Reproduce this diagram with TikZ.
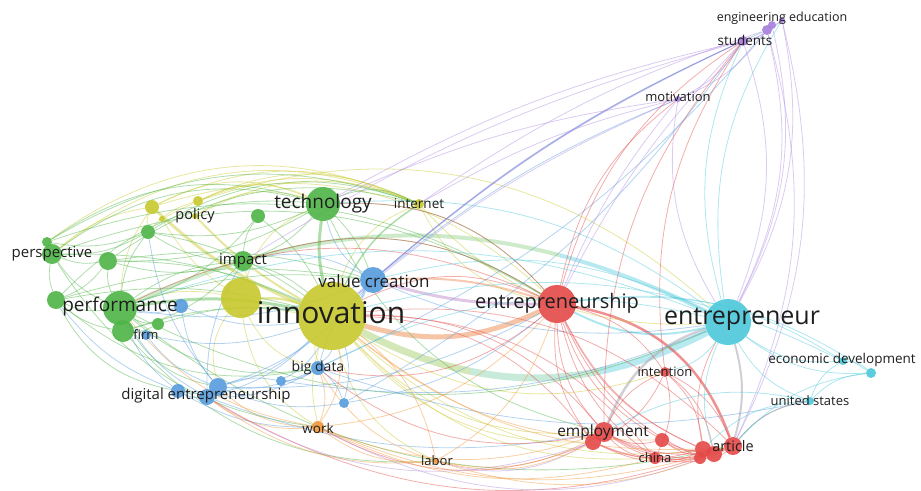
\documentclass[tikz,border=0pt]{standalone}
\usepackage{fontspec}
\setmainfont{Open Sans}
\pgfdeclarelayer{edges}
\pgfsetlayers{edges,main}
\definecolor{yel}{RGB}{200,200,45}
\definecolor{grn}{RGB}{78,180,70}
\definecolor{blu}{RGB}{85,155,220}
\definecolor{red1}{RGB}{228,72,72}
\definecolor{cyn}{RGB}{75,200,218}
\definecolor{prp}{RGB}{165,125,220}
\definecolor{org}{RGB}{240,150,55}
\definecolor{txt}{RGB}{30,30,30}
\definecolor{gry}{RGB}{175,175,185}
\newcommand\fs[1]{\fontsize{#1}{#1}\selectfont}
\newcommand\kwn[4]{\node[kw,fill=#4,minimum size={2*#3}] (#1) at (#2) {};}
\newcommand\edges[3]{\foreach \a/\b in {#3} \draw[#1] (\a) to[#2] (\b);}
\tikzset{
  kw/.style={circle,inner sep=0pt,draw=none,fill opacity=0.9},
  lbl/.style={text=txt,inner sep=0pt},
  ebase/.style={line width=0.8pt,draw opacity=0.45},
  eyel/.style={ebase,draw=yel},
  egrn/.style={ebase,draw=grn},
  eblu/.style={ebase,draw=blu},
  ered/.style={ebase,draw=red1},
  ecyn/.style={ebase,draw=cyn},
  eprp/.style={ebase,draw=prp,draw opacity=0.4},
  eorg/.style={ebase,draw=org},
}
\begin{document}
\begin{tikzpicture}[x=1pt,y=-1pt]
\useasboundingbox (0,0) rectangle (921,490);
% ---------- keyword circles ----------
% yellow
\kwn{inno}{332,316}{34}{yel}
\kwn{yb}{241,298}{20}{yel}
\kwn{y1}{152,207}{7}{yel}
\kwn{y2}{198,201}{5}{yel}
\kwn{y3}{162,219}{3}{yel}
\kwn{poli}{195,216}{3}{yel}
\kwn{inet}{419,204}{5}{yel}
% green
\kwn{tech}{323,204}{17}{grn}
\kwn{g1}{258,216}{7}{grn}
\kwn{imp}{243,261}{10}{grn}
\kwn{perf}{120,308}{17}{grn}
\kwn{g2}{123,331}{11}{grn}
\kwn{g3}{56,300}{9}{grn}
\kwn{g4}{108,261}{9}{grn}
\kwn{persp}{52,254}{10}{grn}
\kwn{g5}{47,242}{5}{grn}
\kwn{g6}{148,232}{7}{grn}
\kwn{g7}{158,324}{6}{grn}
% blue
\kwn{vc}{373,280}{13}{blu}
\kwn{b1}{181,306}{7}{blu}
\kwn{firm}{146,335}{5}{blu}
\kwn{bd}{318,368}{7}{blu}
\kwn{b2}{281,381}{5}{blu}
\kwn{b3}{218,387}{9}{blu}
\kwn{b4}{207,397}{8}{blu}
\kwn{b5}{178,391}{7}{blu}
\kwn{b6}{344,403}{5}{blu}
% orange
\kwn{work}{318,427}{6}{org}
\kwn{labor}{436,461}{3}{org}
% red
\kwn{eship}{557,304}{19}{red1}
\kwn{intn}{665,372}{5}{red1}
\kwn{empl}{604,432}{10}{red1}
\kwn{r1}{593,442}{8}{red1}
\kwn{r2}{662,440}{7}{red1}
\kwn{china}{655,458}{6}{red1}
\kwn{r3}{703,449}{8}{red1}
\kwn{r4}{714,454}{8}{red1}
\kwn{r5}{700,458}{6}{red1}
\kwn{art}{733,446}{9}{red1}
% cyan
\kwn{eneur}{728,322}{23}{cyn}
\kwn{ecod}{843,361}{4}{cyn}
\kwn{c1}{871,373}{5}{cyn}
\kwn{us}{810,401}{4}{cyn}
% purple
\kwn{stud}{743,41}{5}{prp}
\kwn{p1}{767,30}{5}{prp}
\kwn{p2}{772,25}{4}{prp}
\kwn{engd}{782,20}{3}{prp}
\kwn{motv}{678,99}{3}{prp}

% ---------- connectors ----------
\begin{pgfonlayer}{edges}
% thick links
\begin{scope}
\clip (0,0) rectangle (470,490);
\draw[line width=7pt,draw=yel!45!grn!80!white,draw opacity=0.45] (inno) to[bend right=27] (eneur);
\end{scope}
\begin{scope}
\clip (470,0) rectangle (600,490);
\draw[line width=7pt,draw=grn!55!cyn!70!white,draw opacity=0.45] (inno) to[bend right=27] (eneur);
\end{scope}
\begin{scope}
\clip (600,0) rectangle (921,490);
\draw[line width=7pt,draw=cyn!80!white,draw opacity=0.5] (inno) to[bend right=27] (eneur);
\end{scope}
\begin{scope}
\clip (0,0) rectangle (560,490);
\draw[line width=4pt,draw=grn!70!white,draw opacity=0.4] (perf) to[bend left=25] (eneur);
\end{scope}
\begin{scope}
\clip (560,0) rectangle (921,490);
\draw[line width=4pt,draw=cyn!80!white,draw opacity=0.5] (perf) to[bend left=25] (eneur);
\end{scope}
\draw[line width=5pt,draw=org!70!red1,draw opacity=0.45] (inno) to[bend right=20] (eship);
\draw[line width=3pt,draw=prp!80!red1,draw opacity=0.4] (vc) to[bend right=8] (eship);
\draw[line width=2pt,draw=org!60!red1,draw opacity=0.4] (vc) to[bend left=10] (eship);
\draw[line width=3pt,draw=grn,draw opacity=0.45] (tech) to[bend right=10] (inno);
\draw[line width=3pt,draw=grn,draw opacity=0.45] (perf) to[bend left=10] (inno);
\draw[line width=3pt,draw=yel,draw opacity=0.45] (y1) to[bend right=10] (inno);
\draw[line width=2pt,draw=yel,draw opacity=0.45] (poli) to[bend right=8] (inno);
\draw[line width=2.5pt,draw=yel,draw opacity=0.45] (yb) to[bend left=10] (inno);
\draw[line width=2.5pt,draw=blu,draw opacity=0.45] (vc) to[bend left=10] (inno);
\draw[line width=2.5pt,draw=red1,draw opacity=0.6] (eship) to[bend left=30] (art);
\draw[line width=2.5pt,draw=gry,draw opacity=0.6] (empl) to[bend left=25] (eneur);
\draw[line width=2pt,draw=gry,draw opacity=0.6] (art) to[bend right=15] (eneur);
\draw[line width=2pt,draw=cyn,draw opacity=0.45] (eship) to[bend right=20] (eneur);
\draw[line width=1.5pt,draw=grn,draw opacity=0.45] (inet) to[bend right=15] (inno);
% yellow
\edges{eyel}{bend left=25}{inno/inet, y1/tech, y2/tech, y1/inet, y2/inet, poli/tech, yb/tech, poli/inet, y3/inet}
\edges{eyel}{bend left=30}{y1/eship, y2/eneur, g5/inet, persp/inet}
\edges{eyel}{bend right=25}{inno/empl, inno/art, inno/china, inno/labor, inno/r1, inno/intn, yb/bd, yb/b3, yb/work, inet/eship, inet/eneur, y3/inno}
\edges{eyel}{bend right=15}{y1/perf, y1/persp, yb/perf, yb/imp, inno/bd, inno/work, y2/g6, y1/g6}
% green
\edges{egrn}{bend right=15}{persp/perf, g3/perf, g4/perf, perf/g2, imp/perf, g6/perf, persp/g4, persp/g3, persp/g6, g3/g4, g4/tech, g4/imp, g6/tech, g6/imp, imp/tech, g1/imp, perf/g1, g2/imp, g5/g6, g5/persp, perf/g7, g2/g7, g3/g2}
\edges{egrn}{bend left=25}{persp/tech, g5/tech, g5/inet, g4/inet, g6/inet, tech/eship, persp/eship, g5/eship, imp/eship, tech/inet, g3/tech}
\edges{egrn}{bend left=12}{persp/inno, g3/inno, g4/inno, g6/inno, g1/inno, g2/inno, g7/inno, imp/inno, tech/vc, g4/vc, perf/vc, g3/vc}
\edges{egrn}{bend right=25}{perf/eneur, g3/bd, perf/bd, perf/b3, g2/labor, persp/work, g3/b5, tech/empl, perf/art}
% blue
\edges{eblu}{bend right=15}{vc/bd, b3/vc, perf/vc, vc/eneur, bd/inno, b3/bd, b4/bd, b2/bd, b6/bd, b3/b4, b5/b3, b5/b4, b3/inno, b4/inno, perf/b5, perf/b4, perf/firm, firm/b3, firm/inno, perf/b1, b1/inno, b1/b3, b6/inno, b3/b6, b2/b3, b2/inno, b6/eship, b3/eship, b4/empl, b5/work, b2/eneur, g6/b3, g3/b5, imp/b4, firm/g2, bd/us}
\edges{eblu}{bend left=8}{vc/stud, vc/motv, vc/p1}
\edges{eblu}{bend left=20}{vc/tech, imp/vc}
\edges{eblu}{bend right=12}{b6/stud, bd/p1}
% red
\edges{ered}{bend right=20}{eship/empl, eship/china, eship/r1, eship/r2, eship/r3, eship/r4, eship/r5, empl/art, empl/r2, empl/china, empl/r3, empl/r4, empl/r5, r1/art, r1/r3, china/art, china/r3, r2/art, r2/r3, r2/r4, r1/r4, r5/art}
\edges{ered}{bend left=20}{eship/intn, empl/intn, intn/art, intn/r3, intn/r4, intn/china, intn/r1, art/us, r3/eneur, eship/stud, eship/motv, empl/stud, intn/stud}
\edges{ered}{bend left=25}{inno/eship, tech/eship, imp/eship, perf/eship}
\edges{ered}{bend right=25}{bd/eship, r1/inno, empl/inno, china/inno, art/inno, bd/empl, work/r1, b4/art}
% cyan
\edges{ecyn}{bend right=20}{eneur/ecod, eneur/c1, eneur/us, eneur/r4, ecod/us, c1/us, us/art, us/r3, c1/art, us/empl, c1/ecod}
\edges{ecyn}{bend left=20}{eneur/intn, tech/eneur, vc/eneur, eship/c1, inno/ecod, eship/ecod, perf/eneur, bd/eneur, eneur/stud, eneur/engd}
% purple
\edges{eprp}{bend right=15}{stud/p1, p1/p2, p2/engd, stud/engd, motv/stud, motv/p1}
\edges{eprp}{bend left=8}{inno/stud, eship/stud, tech/stud, inno/motv, eship/motv, vc/stud, tech/motv, inet/p1, imp/stud, inet/motv}
\edges{eprp}{bend right=20}{eneur/stud, eneur/p1, eneur/p2, eneur/engd, motv/eneur, art/p1, art/engd}
\edges{eprp}{bend right=25}{work/art, labor/empl, b4/r1}
% orange
\edges{eorg}{bend right=20}{work/inno, work/bd, b3/work, work/empl, work/art, work/eship, work/china, labor/inno, labor/empl, labor/art, b4/labor, labor/eship, work/labor, labor/r1, perf/work, bd/labor, b4/work, inno/r2, inno/r3}
\end{pgfonlayer}

% ---------- labels ----------
\node[lbl,font=\fs{30}] (L-inno) at (331,313) {innovation};
\node[lbl,font=\fs{25}] (L-eneur) at (742,319) {entrepreneur};
\node[lbl,font=\fs{20}] (L-eship) at (557,303) {entrepreneurship};
\node[lbl,font=\fs{19}] (L-perf) at (120,307) {performance};
\node[lbl,font=\fs{19}] (L-tech) at (323,204) {technology};
\node[lbl,font=\fs{17}] (L-vc) at (374,281) {value creation};
\node[lbl,font=\fs{15}] (L-persp) at (52,254) {perspective};
\node[lbl,font=\fs{14.5}] (L-poli) at (195,216) {policy};
\node[lbl,font=\fs{15}] (L-imp) at (243,261) {impact};
\node[lbl,font=\fs{13}] (L-firm) at (146,335) {firm};
\node[lbl,font=\fs{14}] (L-bd) at (318,368) {big data};
\node[lbl,font=\fs{15}] (L-de) at (206,396) {digital entrepreneurship};
\node[lbl,font=\fs{13.5}] (L-work) at (318,428) {work};
\node[lbl,font=\fs{13}] (L-labor) at (437,461) {labor};
\node[lbl,font=\fs{15.5}] (L-empl) at (603,432) {employment};
\node[lbl,font=\fs{13}] (L-intn) at (665,372) {intention};
\node[lbl,font=\fs{13}] (L-china) at (655,458) {china};
\node[lbl,font=\fs{14.5}] (L-art) at (733,446) {article};
\node[lbl,font=\fs{13.5}] (L-ecod) at (842,360) {economic development};
\node[lbl,font=\fs{13}] (L-us) at (810,401) {united states};
\node[lbl,font=\fs{13.5}] (L-stud) at (745,40) {students};
\node[lbl,font=\fs{12.5}] (L-engd) at (782,18) {engineering education};
\node[lbl,font=\fs{13}] (L-motv) at (678,97) {motivation};
\node[lbl,font=\fs{13.5}] (L-inet) at (419,204) {internet};
\end{tikzpicture}
\end{document}
